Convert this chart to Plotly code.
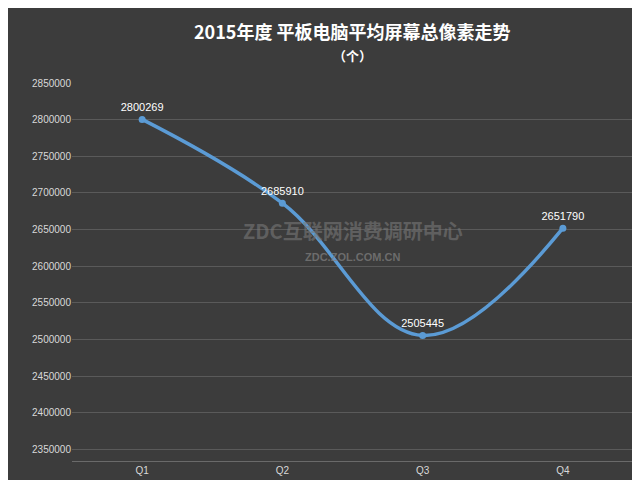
import plotly.graph_objects as go

quarters = ["Q1", "Q2", "Q3", "Q4"]
pixels = [2800269, 2685910, 2505445, 2651790]

fig = go.Figure(go.Scatter(
    x=quarters, y=pixels, mode="lines+markers+text",
    line=dict(color="#5b9bd5", width=3.5, shape="spline", smoothing=1.1),
    marker=dict(color="#5b9bd5", size=7),
    text=[str(v) for v in pixels], textposition="top center",
    textfont=dict(color="white", size=11, family="Liberation Sans"),
))
plot_h = 480 - 75 - 20
def py(p):
    return 1 + (75 - p) / plot_h
fig.update_layout(
    width=640, height=480,
    paper_bgcolor="#3c3c3c", plot_bgcolor="#3c3c3c",
    margin=dict(l=64, r=15, t=75, b=20),
    showlegend=False,
    font=dict(family="Liberation Sans", color="#d9d9d9", size=10),
    annotations=[
        dict(text="<b>2015年度 平板电脑平均屏幕总像素走势</b>", x=0.5, y=py(22), yanchor="middle",
             xref="paper", yref="paper",
             showarrow=False, font=dict(size=18, color="white", family="Noto Sans CJK SC")),
        dict(text="<b>（个）</b>", x=0.5, y=py(47), yanchor="middle", xref="paper", yref="paper",
             showarrow=False, font=dict(size=13, color="white", family="Noto Sans CJK SC")),
        dict(text="<b>ZDC互联网消费调研中心</b>", x=0.5, y=0.61, xref="paper", yref="paper",
             showarrow=False, font=dict(size=20, color="rgba(120,120,120,0.6)", family="Noto Sans CJK SC")),
        dict(text="<b>ZDC.ZOL.COM.CN</b>", x=0.5, y=0.54, xref="paper", yref="paper",
             showarrow=False, font=dict(size=11, color="rgba(130,130,130,0.7)")),
    ],
)
fig.update_xaxes(showgrid=False, showline=True, linecolor="#6a6a6a", ticks="",
                 tickfont=dict(color="#d9d9d9", size=10), range=[-0.5, 3.5])
fig.update_yaxes(range=[2334000, 2850000], tick0=2350000, dtick=50000,
                 gridcolor="#5a5a5a", zeroline=False, tickformat="d",
                 tickfont=dict(color="#d9d9d9", size=10))
fig.write_html("out.html")
